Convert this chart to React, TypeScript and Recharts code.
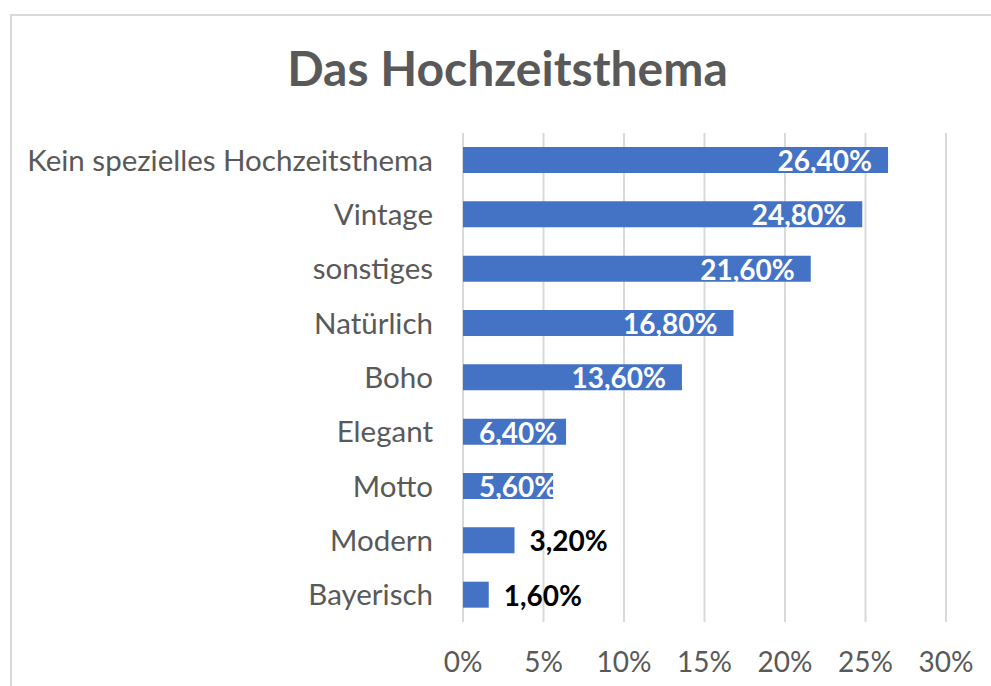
import { BarChart, Bar, XAxis, YAxis, CartesianGrid, LabelList } from "recharts";

const categories = [
  "Kein spezielles Hochzeitsthema",
  "Vintage",
  "sonstiges",
  "Natürlich",
  "Boho",
  "Elegant",
  "Motto",
  "Modern",
  "Bayerisch",
];
const shares = [26.4, 24.8, 21.6, 16.8, 13.6, 6.4, 5.6, 3.2, 1.6];
const xTicks = [0, 5, 10, 15, 20, 25, 30];

const data = categories.map((name, i) => ({ name, value: shares[i] }));

const FONT = "Lato, 'Open Sans', sans-serif";
const GRAY = "#595959";

const fmt = (v: number) => v.toFixed(2).replace(".", ",") + "%";

// Excel-style labels: white inside the bar end, black outside for tiny bars
const BarLabel = (props: any) => {
  const { x, y, width, height, value } = props;
  const text = fmt(Number(value));
  const cy = Number(y) + Number(height) / 2;
  const bx = Number(x);
  const bw = Number(width);
  const textW = text.length * 15.5;
  if (value < 5) {
    return (
      <text x={bx + bw + 15} y={cy} dominantBaseline="central" textAnchor="start"
        fill="#000" fontSize={28} fontWeight={700} fontFamily={FONT}>
        {text}
      </text>
    );
  }
  const fits = bw - 32 >= textW;
  return (
    <text
      x={fits ? bx + bw - 16 : bx + 16}
      y={cy}
      dominantBaseline="central"
      textAnchor={fits ? "end" : "start"}
      fill="#fff" fontSize={28} fontWeight={700} fontFamily={FONT}>
      {text}
    </text>
  );
};

export default function App() {
  return (
    <div style={{ position: "absolute", left: 0, top: 0, width: 991, height: 686, overflow: "hidden", background: "#fff", fontFamily: FONT }}>
      <div style={{ position: "absolute", left: 10, top: 14, width: 1200, height: 900, border: "2px solid #D9D9D9", boxSizing: "border-box" }} />
      <div style={{ position: "absolute", left: 10, width: 995, top: 38, textAlign: "center", fontSize: 48, fontWeight: 700, color: GRAY, lineHeight: "60px" }}>
        Das Hochzeitsthema
      </div>
      <div style={{ position: "absolute", left: 0, top: 0 }}>
        <BarChart width={991} height={686} data={data} layout="vertical"
          margin={{ top: 133, right: 45, bottom: 0, left: 0 }}>
          <CartesianGrid horizontal={false} stroke="#D9D9D9" strokeWidth={2} />
          <XAxis type="number" domain={[0, 30]} ticks={xTicks} tickFormatter={(v) => `${v}%`}
            axisLine={false} tickLine={false} tickMargin={24} height={64}
            tick={{ fill: GRAY, fontSize: 28, fontFamily: FONT }} />
          <YAxis type="category" dataKey="name" width={463} axisLine={false} tickLine={false}
            tickMargin={24} interval={0}
            tick={{ fill: GRAY, fontSize: 29.5, fontFamily: FONT }} />
          <Bar dataKey="value" fill="#4472C4" barSize={26} isAnimationActive={false}>
            <LabelList dataKey="value" content={BarLabel} />
          </Bar>
        </BarChart>
      </div>
    </div>
  );
}
